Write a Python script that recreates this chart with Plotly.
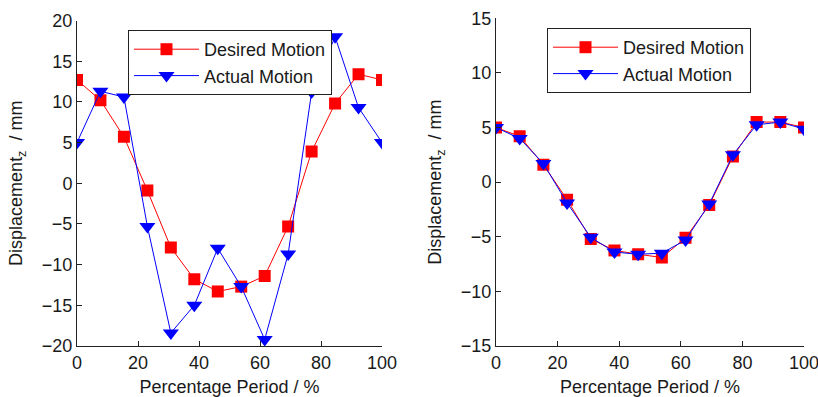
import plotly.graph_objects as go

# Sample positions: 14 evenly spaced points over one period (%)
period_pct = [100 * i / 13 for i in range(14)]

# Left panel: z displacement (mm)
desired_left = [12.7, 10.2, 5.7, -0.9, -7.9, -11.8, -13.3, -12.7, -11.4, -5.3, 3.9, 9.8, 13.4, 12.7]
actual_left = [5.0, 11.3, 10.6, -5.3, -18.4, -15.0, -8.0, -12.7, -19.2, -8.7, 11.2, 18.0, 9.3, 5.0]

# Right panel: z displacement (mm)
desired_right = [5.0, 4.2, 1.6, -1.6, -5.2, -6.25, -6.6, -6.9, -5.1, -2.1, 2.35, 5.5, 5.5, 5.0]
actual_right = [5.0, 4.0, 1.7, -1.9, -5.05, -6.4, -6.6, -6.5, -5.3, -2.0, 2.5, 5.25, 5.5, 4.85]

x_ticks = [0, 20, 40, 60, 80, 100]
left_y_ticks = [-20, -15, -10, -5, 0, 5, 10, 15, 20]
right_y_ticks = [-15, -10, -5, 0, 5, 10, 15]

FONT = "Liberation Sans, Arial, sans-serif"
FS = 18
TXT = "#1a1a1a"
RED = "#ff0000"
BLUE = "#0000ff"

fig = go.Figure()

panels = [
    (desired_left, actual_left, "x", "y", "legend"),
    (desired_right, actual_right, "x2", "y2", "legend2"),
]
for des, act, xa, ya, lg in panels:
    fig.add_trace(go.Scatter(
        x=period_pct, y=des, mode="lines+markers", name="Desired Motion",
        xaxis=xa, yaxis=ya, legend=lg, legendgroup="desired",
        line=dict(color=RED, width=1),
        marker=dict(symbol="square", size=12, color=RED),
    ))
    fig.add_trace(go.Scatter(
        x=period_pct, y=act, mode="lines+markers", name="Actual Motion",
        xaxis=xa, yaxis=ya, legend=lg, legendgroup="actual",
        line=dict(color=BLUE, width=1),
        marker=dict(symbol="triangle-down", size=14, color=BLUE),
    ))

axis_common = dict(
    showline=True, linecolor="#222", linewidth=1,
    ticks="inside", ticklen=5, tickcolor="#222",
    showgrid=False, zeroline=False, mirror=False, automargin=False,
    ticklabeloverflow="allow",
    tickfont=dict(family=FONT, size=FS, color=TXT),
)

x_title = dict(text="Percentage Period / %", font=dict(family=FONT, size=FS, color=TXT), standoff=16)
y_title = dict(text="Displacement<sub>z</sub>  / mm", font=dict(family=FONT, size=FS, color=TXT), standoff=14)

legend_common = dict(
    xanchor="left", yanchor="top",
    bgcolor="white", bordercolor="#222", borderwidth=1,
    font=dict(family=FONT, size=FS, color=TXT),
    itemwidth=65, tracegroupgap=0,
)

fig.update_layout(
    template="none",
    width=818, height=397,
    margin=dict(l=0, r=0, t=0, b=0, autoexpand=False),
    paper_bgcolor="white", plot_bgcolor="white",
    font=dict(family=FONT, size=FS, color=TXT),
    xaxis=dict(domain=[77 / 818, 382 / 818], range=[0, 100], tickvals=x_ticks,
               title=x_title, anchor="y", ticklabelstandoff=0, **axis_common),
    yaxis=dict(domain=[1 - 346 / 397, 1 - 20.5 / 397], range=[-20, 20], tickvals=left_y_ticks,
               title=y_title, anchor="x", **axis_common),
    xaxis2=dict(domain=[496 / 818, 804 / 818], range=[0, 100], tickvals=x_ticks,
                title=x_title, anchor="y2", ticklabelstandoff=0, **axis_common),
    yaxis2=dict(domain=[1 - 346 / 397, 1 - 18.3 / 397], range=[-15, 15], tickvals=right_y_ticks,
                title=y_title, anchor="x2", **axis_common),
    legend=dict(x=128 / 818, y=1 - 30 / 397, **legend_common),
    legend2=dict(x=547 / 818, y=1 - 28 / 397, **legend_common),
    showlegend=True,
)

fig.write_html("out.html")
